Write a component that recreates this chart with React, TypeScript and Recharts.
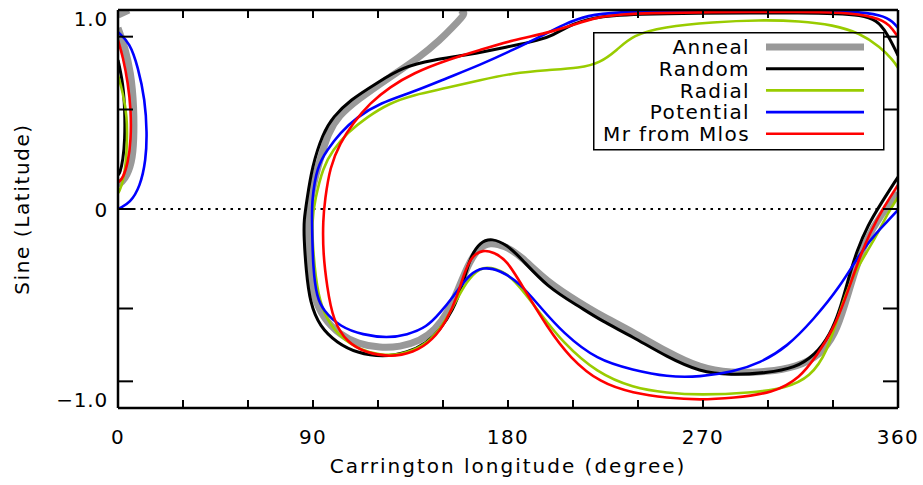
import React from 'react';
import { LineChart, Line, XAxis, YAxis, ReferenceLine, Legend, Label } from 'recharts';

type Pt = [number, number];

// Tick values
const xTicks = [0, 30, 60, 90, 120, 150, 180, 210, 240, 270, 300, 330, 360];
const xLabelTicks = [0, 90, 180, 270, 360];
const yTicks = [-1, -0.866, -0.5, 0, 0.5, 0.866, 1];
const yLabelTicks = [1, 0, -1];
const yLabelText = ['1.0', '0', '\u22121.0'];

// ---- Anneal (gray) ----
const annealPole: Pt[] = [[0, 0.975], [5, 1.0]];
const annealLoop: Pt[] = [[0, 0.91], [3.2, 0.814], [6.0, 0.683], [7.4, 0.513], [7.4, 0.347], [6.5, 0.231], [3.2, 0.146], [0, 0.121]];
const annealMain: Pt[] = [
  [360, 0.08], [352, -0.03], [345.2, -0.156], [340.2, -0.307], [335.5, -0.482], [330.9, -0.633], [324, -0.734],
  [313.4, -0.794], [299.5, -0.819], [282.5, -0.824], [268.6, -0.799], [253.4, -0.719], [237.7, -0.618],
  [222.5, -0.533], [213.2, -0.472], [198, -0.367], [185.5, -0.231], [178.6, -0.186], [171.7, -0.166],
  [166.2, -0.196], [161.5, -0.281], [156.9, -0.407], [152.3, -0.518], [146.3, -0.608], [139.4, -0.663],
  [130.2, -0.693], [120.9, -0.698], [110.8, -0.678], [102.5, -0.633], [94.6, -0.548], [90, -0.432],
  [88.2, -0.281], [87.7, -0.131], [88.2, -0.005], [90, 0.121], [93.2, 0.246], [96.9, 0.382], [102, 0.47],
  [110.3, 0.548], [125.5, 0.663], [139.4, 0.764], [148.6, 0.849], [154.6, 0.915], [158.8, 0.965],
  [160.2, 0.985], [158, 1.0],
];

// ---- Random (black) ----
const randomLoop: Pt[] = [[0, 0.749], [2.3, 0.633], [3.2, 0.497], [3.2, 0.347], [2.3, 0.246], [0.9, 0.181], [0, 0.171]];
const randomMain: Pt[] = [
  [360, 0.161], [351.7, 0.02], [346.2, -0.08], [341.1, -0.206], [336.9, -0.357], [333.2, -0.508], [328.6, -0.633],
  [321.7, -0.734], [312.5, -0.799], [299.5, -0.824], [282.5, -0.834], [268.6, -0.819], [253.4, -0.744],
  [237.7, -0.643], [222.5, -0.558], [213.2, -0.492], [198, -0.392], [185.5, -0.241], [179.5, -0.181],
  [172.6, -0.146], [167.1, -0.166], [162.5, -0.241], [158.8, -0.392], [154.6, -0.508], [148.6, -0.608],
  [142.6, -0.673], [133.4, -0.724], [122.3, -0.744], [110.3, -0.724], [101.1, -0.673], [93.2, -0.593],
  [88.6, -0.472], [86.8, -0.307], [85.8, -0.141], [85.8, -0.055], [87.2, 0.045], [89.5, 0.211], [94.6, 0.382],
  [99.2, 0.462], [107.1, 0.548], [119.5, 0.633], [131.5, 0.714], [145.4, 0.749], [161.1, 0.774],
  [179.5, 0.814], [194.8, 0.849], [200.8, 0.874], [207.2, 0.915], [217.8, 0.965], [240.9, 0.98],
  [268.6, 0.985], [291.7, 0.985], [314.8, 0.985], [332, 0.982], [342.5, 0.975], [350.3, 0.95], [354.9, 0.884],
  [359.5, 0.784], [360, 0.77],
];

// ---- Radial (green) ----
const radialLoop: Pt[] = [[0, 0.673], [2.3, 0.583], [4.2, 0.462], [4.2, 0.347], [3.7, 0.231], [2.3, 0.136], [0.5, 0.085], [0, 0.08]];
const radialMain: Pt[] = [
  [360, 0.06], [355.4, -0.02], [351.7, -0.1], [346.2, -0.206], [339.2, -0.332], [333.2, -0.508], [327.2, -0.724],
  [319.4, -0.844], [308.8, -0.899], [291.7, -0.925], [268.6, -0.935], [253.4, -0.925], [237.7, -0.899],
  [221.1, -0.824], [205.4, -0.673], [194.8, -0.523], [185.5, -0.392], [179.5, -0.322], [171.7, -0.291],
  [167.1, -0.296], [161.1, -0.357], [154.6, -0.492], [148.6, -0.608], [140.8, -0.693], [130.2, -0.734],
  [120.9, -0.734], [111.7, -0.709], [102.5, -0.643], [96.5, -0.558], [92.3, -0.442], [90, -0.221],
  [89.5, -0.055], [90.9, 0.045], [94.6, 0.211], [99.2, 0.296], [105.7, 0.382], [114.9, 0.462], [125.5, 0.533],
  [136.2, 0.573], [151.8, 0.608], [167.1, 0.648], [182.3, 0.683], [198, 0.698], [213.2, 0.709], [222.5, 0.734],
  [230.3, 0.799], [237.7, 0.874], [251.5, 0.915], [274.6, 0.94], [296.3, 0.95], [314.8, 0.945], [330, 0.925],
  [342.5, 0.884], [351.7, 0.814], [357.7, 0.749], [360, 0.709],
];

// ---- Potential (blue) ----
const potentialLoop: Pt[] = [[0, 0.889], [5.5, 0.834], [9.2, 0.714], [12.5, 0.548], [13.4, 0.382], [12.9, 0.246], [10.2, 0.111], [5.5, 0.03], [0.9, 0.005], [0, 0]];
const potentialMain: Pt[] = [
  [360, -0.005], [354.9, -0.065], [350.3, -0.116], [342.5, -0.221], [333.2, -0.392], [320.8, -0.558],
  [308.8, -0.693], [296.3, -0.774], [283.8, -0.819], [268.6, -0.844], [253.4, -0.844], [237.7, -0.809],
  [221.1, -0.759], [205.4, -0.623], [194.8, -0.492], [185.5, -0.372], [176.3, -0.307], [168.5, -0.291],
  [162.5, -0.322], [154.6, -0.442], [148.6, -0.523], [142.6, -0.593], [133.4, -0.633], [124.2, -0.648],
  [113.1, -0.633], [102.5, -0.593], [94.6, -0.508], [91.8, -0.442], [90, -0.307], [89.5, -0.055],
  [89.5, 0.045], [91.8, 0.211], [96.5, 0.296], [102.5, 0.382], [110.3, 0.462], [120.9, 0.533], [136.2, 0.588],
  [151.8, 0.658], [167.1, 0.724], [182.3, 0.799], [198, 0.884], [205.4, 0.925], [216.5, 0.975], [231.7, 0.99],
  [250, 0.994], [268.6, 0.995], [300, 0.995], [320, 0.995], [337.8, 0.995], [353.1, 0.975], [357.7, 0.94], [360, 0.91],
];

// ---- Mr from Mlos (red) ----
const mlosLoop: Pt[] = [[0, 0.849], [2.3, 0.764], [4.6, 0.633], [6.0, 0.497], [6.0, 0.347], [4.6, 0.231], [2.3, 0.156], [0.5, 0.136], [0, 0.135]];
const mlosMain: Pt[] = [
  [360, 0.121], [354, 0.02], [347.1, -0.116], [341.5, -0.266], [335.5, -0.457], [330, -0.608], [322.6, -0.734],
  [314.8, -0.849], [302.3, -0.925], [283.8, -0.95], [268.6, -0.96], [253.4, -0.95], [237.7, -0.925],
  [222.5, -0.874], [208.6, -0.749], [198, -0.593], [186.9, -0.392], [179.5, -0.256], [173.1, -0.216],
  [168.5, -0.206], [163.8, -0.231], [160.2, -0.307], [156.5, -0.442], [151.8, -0.558], [145.4, -0.658],
  [136.2, -0.724], [125.5, -0.744], [114.9, -0.724], [105.7, -0.673], [99.2, -0.558], [96.5, -0.392],
  [94.6, -0.221], [94.6, -0.055], [95.5, 0.045], [97.8, 0.211], [102.5, 0.332], [108.5, 0.432], [116.3, 0.533],
  [125.5, 0.613], [136.2, 0.683], [151.8, 0.749], [167.1, 0.799], [182.3, 0.849], [198, 0.884], [210, 0.925],
  [221.1, 0.965], [233, 0.978], [245.5, 0.985], [268, 0.988], [291.7, 0.99], [312, 0.99], [333.2, 0.99],
  [350.3, 0.965], [356.3, 0.925], [360, 0.864],
];

const seriesNames = ['Anneal', 'Random', 'Radial', 'Potential', 'Mr from Mlos'];
const seriesColors = ['#999999', '#000000', '#99cc00', '#0000ff', '#ff0000'];
const seriesWidths = [7, 3, 2.6, 2.6, 2.6];
const seriesSegments: Pt[][][] = [
  [annealPole, annealLoop, annealMain],
  [randomLoop, randomMain],
  [radialLoop, radialMain],
  [potentialLoop, potentialMain],
  [mlosLoop, mlosMain],
];

function toData(segments: Pt[][]) {
  const out: { lon: number; lat: number | null }[] = [];
  segments.forEach((seg, i) => {
    if (i > 0) out.push({ lon: seg[0][0], lat: null });
    seg.forEach(([lon, lat]) => out.push({ lon, lat }));
  });
  return out;
}

const FONT = '"DejaVu Sans", Verdana, sans-serif';
const textStyle: React.CSSProperties = { fontFamily: FONT, fontSize: 20, letterSpacing: 1.4 };

const BottomTick = (props: any) => {
  const { x, y, payload } = props;
  const v = payload.value;
  return (
    <g>
      <line x1={x} y1={y} x2={x} y2={y - 8} stroke="#000" strokeWidth={2} />
      {xLabelTicks.includes(v) && (
        <text x={x} y={y + 36} textAnchor="middle" fill="#000" style={textStyle}>{String(v)}</text>
      )}
    </g>
  );
};

const TopTick = (props: any) => {
  const { x, y } = props;
  return <line x1={x} y1={y} x2={x} y2={y + 8} stroke="#000" strokeWidth={2} />;
};

const LeftTick = (props: any) => {
  const { x, y, payload } = props;
  const v = payload.value;
  const idx = yLabelTicks.indexOf(v);
  const dy = v === 1 ? 16 : v === -1 ? -1 : 8;
  return (
    <g>
      <line x1={x} y1={y} x2={x + 15} y2={y} stroke="#000" strokeWidth={2} />
      {idx >= 0 && (
        <text x={x - 10} y={y + dy} textAnchor="end" fill="#000" style={{ ...textStyle, letterSpacing: 0.8 }}>{yLabelText[idx]}</text>
      )}
    </g>
  );
};

const RightTick = (props: any) => {
  const { x, y } = props;
  return <line x1={x} y1={y} x2={x - 15} y2={y} stroke="#000" strokeWidth={2} />;
};

const XTitle = (props: any) => {
  const vb = props.viewBox || { x: 118, y: 408, width: 780 };
  return (
    <text x={vb.x + vb.width / 2} y={vb.y + 65} textAnchor="middle" fill="#000" style={{ ...textStyle, letterSpacing: 2 }}>
      Carrington longitude (degree)
    </text>
  );
};

const YTitle = (props: any) => {
  const vb = props.viewBox || { x: 118, y: 10, height: 398 };
  const cx = 22;
  const cy = vb.y + vb.height / 2;
  return (
    <text x={cx} y={cy} dy="0.36em" textAnchor="middle" fill="#000" transform={`rotate(-90, ${cx}, ${cy})`} style={{ ...textStyle, letterSpacing: 1.6 }}>
      Sine (Latitude)
    </text>
  );
};

const LegendBox = () => (
  <svg width={293} height={120} style={{ display: 'block', overflow: 'visible' }}>
    <rect x={0.75} y={0.75} width={290} height={117} fill="none" stroke="#000" strokeWidth={1.5} />
    {seriesNames.map((name, i) => {
      const cy = 15 + i * 21.7;
      return (
        <g key={name}>
          <text x={157} y={cy} dy="0.36em" textAnchor="end" fill="#000" style={textStyle}>{name}</text>
          <line x1={173} x2={271} y1={cy} y2={cy} stroke={seriesColors[i]} strokeWidth={seriesWidths[i]} />
        </g>
      );
    })}
  </svg>
);

const axisLineStyle = { stroke: '#000', strokeWidth: 2.5 };

export default function App() {
  return (
    <div style={{ position: 'absolute', left: 0, top: 0, width: 923, height: 485, background: '#fff' }}>
      <LineChart width={923} height={485} margin={{ top: 9, right: 24, bottom: 76, left: 117 }}>
        <XAxis
          xAxisId={0}
          dataKey="lon"
          type="number"
          domain={[0, 360]}
          ticks={xTicks}
          interval={0}
          height={1}
          tickSize={0}
          tickMargin={0}
          tickLine={false}
          tick={<BottomTick />}
          axisLine={axisLineStyle}
          allowDataOverflow
        >
          <Label content={<XTitle />} />
        </XAxis>
        <XAxis
          xAxisId="top"
          orientation="top"
          dataKey="lon"
          type="number"
          domain={[0, 360]}
          ticks={xTicks}
          interval={0}
          height={1}
          tickSize={0}
          tickMargin={0}
          tickLine={false}
          tick={<TopTick />}
          axisLine={axisLineStyle}
          allowDataOverflow
        />
        <YAxis
          yAxisId={0}
          type="number"
          domain={[-1, 1]}
          ticks={yTicks}
          interval={0}
          width={1}
          tickSize={0}
          tickMargin={0}
          tickLine={false}
          tick={<LeftTick />}
          axisLine={axisLineStyle}
          allowDataOverflow
        >
          <Label content={<YTitle />} />
        </YAxis>
        <YAxis
          yAxisId="right"
          orientation="right"
          type="number"
          domain={[-1, 1]}
          ticks={yTicks}
          interval={0}
          width={1}
          tickSize={0}
          tickMargin={0}
          tickLine={false}
          tick={<RightTick />}
          axisLine={axisLineStyle}
          allowDataOverflow
        />
        <ReferenceLine y={0} stroke="#000" strokeWidth={2.2} strokeDasharray="2.5 5" />
        {seriesNames.map((name, i) => (
          <Line
            key={name}
            name={name}
            data={toData(seriesSegments[i])}
            dataKey="lat"
            type="basis"
            stroke={seriesColors[i]}
            strokeWidth={seriesWidths[i]}
            dot={false}
            activeDot={false}
            isAnimationActive={false}
            connectNulls={false}
          />
        ))}
        <Legend
          content={<LegendBox />}
          layout="vertical"
          align="center"
          verticalAlign="middle"
          wrapperStyle={{ position: 'absolute', left: 593, top: 32, width: 293, height: 120 }}
        />
      </LineChart>
    </div>
  );
}
